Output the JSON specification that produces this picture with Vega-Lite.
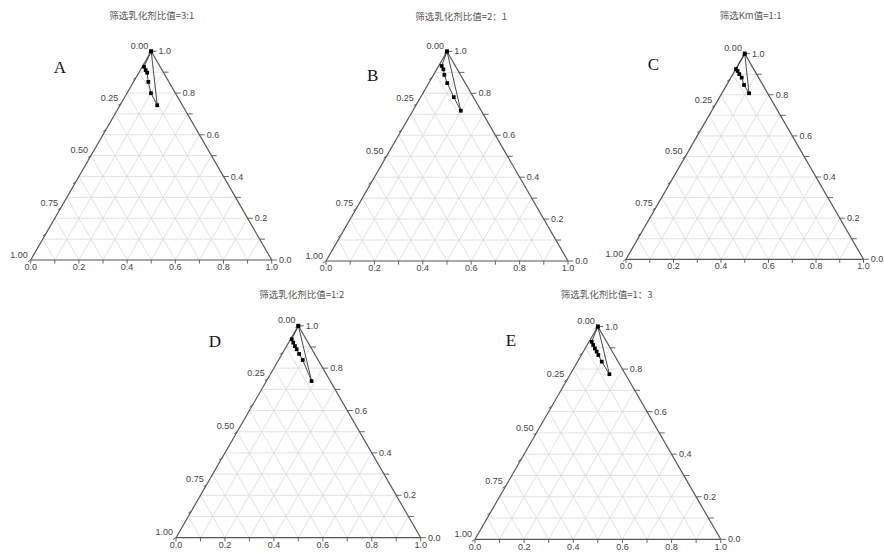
{
  "$schema": "https://vega.github.io/schema/vega-lite/v6.json",
  "padding": 0,
  "background": "white",
  "config": {
    "view": {"stroke": null},
    "text": {"font": "Liberation Sans", "fontSize": 9, "color": "#444"}
  },
  "datasets": {
    "grid": [
      {"x": 0.05, "y": 0.0866, "x2": 0.95, "y2": 0.0866},
      {"x": 0.1, "y": 0.1732, "x2": 0.9, "y2": 0.1732},
      {"x": 0.15, "y": 0.2598, "x2": 0.85, "y2": 0.2598},
      {"x": 0.2, "y": 0.3464, "x2": 0.8, "y2": 0.3464},
      {"x": 0.25, "y": 0.433, "x2": 0.75, "y2": 0.433},
      {"x": 0.3, "y": 0.5196, "x2": 0.7, "y2": 0.5196},
      {"x": 0.35, "y": 0.6062, "x2": 0.65, "y2": 0.6062},
      {"x": 0.4, "y": 0.6928, "x2": 0.6, "y2": 0.6928},
      {"x": 0.45, "y": 0.7794, "x2": 0.55, "y2": 0.7794},
      {"x": 0.1, "y": 0, "x2": 0.55, "y2": 0.7794},
      {"x": 0.2, "y": 0, "x2": 0.6, "y2": 0.6928},
      {"x": 0.3, "y": 0, "x2": 0.65, "y2": 0.6062},
      {"x": 0.4, "y": 0, "x2": 0.7, "y2": 0.5196},
      {"x": 0.5, "y": 0, "x2": 0.75, "y2": 0.433},
      {"x": 0.6, "y": 0, "x2": 0.8, "y2": 0.3464},
      {"x": 0.7, "y": 0, "x2": 0.85, "y2": 0.2598},
      {"x": 0.8, "y": 0, "x2": 0.9, "y2": 0.1732},
      {"x": 0.9, "y": 0, "x2": 0.95, "y2": 0.0866},
      {"x": 0.1, "y": 0, "x2": 0.05, "y2": 0.0866},
      {"x": 0.2, "y": 0, "x2": 0.1, "y2": 0.1732},
      {"x": 0.3, "y": 0, "x2": 0.15, "y2": 0.2598},
      {"x": 0.4, "y": 0, "x2": 0.2, "y2": 0.3464},
      {"x": 0.5, "y": 0, "x2": 0.25, "y2": 0.433},
      {"x": 0.6, "y": 0, "x2": 0.3, "y2": 0.5196},
      {"x": 0.7, "y": 0, "x2": 0.35, "y2": 0.6062},
      {"x": 0.8, "y": 0, "x2": 0.4, "y2": 0.6928},
      {"x": 0.9, "y": 0, "x2": 0.45, "y2": 0.7794}
    ],
    "frame": [
      {"x": 0, "y": 0, "x2": 1, "y2": 0},
      {"x": 1, "y": 0, "x2": 0.5, "y2": 0.866},
      {"x": 0.5, "y": 0.866, "x2": 0, "y2": 0}
    ],
    "ticks": [
      {"x": 0, "y": 0, "x2": 0, "y2": -0.015},
      {"x": 0.1, "y": 0, "x2": 0.1, "y2": -0.015},
      {"x": 0.2, "y": 0, "x2": 0.2, "y2": -0.015},
      {"x": 0.3, "y": 0, "x2": 0.3, "y2": -0.015},
      {"x": 0.4, "y": 0, "x2": 0.4, "y2": -0.015},
      {"x": 0.5, "y": 0, "x2": 0.5, "y2": -0.015},
      {"x": 0.6, "y": 0, "x2": 0.6, "y2": -0.015},
      {"x": 0.7, "y": 0, "x2": 0.7, "y2": -0.015},
      {"x": 0.8, "y": 0, "x2": 0.8, "y2": -0.015},
      {"x": 0.9, "y": 0, "x2": 0.9, "y2": -0.015},
      {"x": 1, "y": 0, "x2": 1, "y2": -0.015},
      {"x": 1, "y": 0, "x2": 1.022, "y2": 0},
      {"x": 0.95, "y": 0.0866, "x2": 0.972, "y2": 0.0866},
      {"x": 0.9, "y": 0.1732, "x2": 0.922, "y2": 0.1732},
      {"x": 0.85, "y": 0.2598, "x2": 0.872, "y2": 0.2598},
      {"x": 0.8, "y": 0.3464, "x2": 0.822, "y2": 0.3464},
      {"x": 0.75, "y": 0.433, "x2": 0.772, "y2": 0.433},
      {"x": 0.7, "y": 0.5196, "x2": 0.722, "y2": 0.5196},
      {"x": 0.65, "y": 0.6062, "x2": 0.672, "y2": 0.6062},
      {"x": 0.6, "y": 0.6928, "x2": 0.622, "y2": 0.6928},
      {"x": 0.55, "y": 0.7794, "x2": 0.572, "y2": 0.7794},
      {"x": 0.5, "y": 0.866, "x2": 0.522, "y2": 0.866},
      {"x": 0.5, "y": 0.866, "x2": 0.488, "y2": 0.858},
      {"x": 0.4375, "y": 0.7578, "x2": 0.4255, "y2": 0.7498},
      {"x": 0.375, "y": 0.6495, "x2": 0.363, "y2": 0.6415},
      {"x": 0.3125, "y": 0.5413, "x2": 0.3005, "y2": 0.5333},
      {"x": 0.25, "y": 0.433, "x2": 0.238, "y2": 0.425},
      {"x": 0.1875, "y": 0.3248, "x2": 0.1755, "y2": 0.3168},
      {"x": 0.125, "y": 0.2165, "x2": 0.113, "y2": 0.2085},
      {"x": 0.0625, "y": 0.1083, "x2": 0.0505, "y2": 0.1003},
      {"x": 0, "y": 0, "x2": -0.012, "y2": -0.008}
    ],
    "labels": [
      {"side": "b", "x": 0, "y": -0.03, "t": "0.0"},
      {"side": "b", "x": 0.2, "y": -0.03, "t": "0.2"},
      {"side": "b", "x": 0.4, "y": -0.03, "t": "0.4"},
      {"side": "b", "x": 0.6, "y": -0.03, "t": "0.6"},
      {"side": "b", "x": 0.8, "y": -0.03, "t": "0.8"},
      {"side": "b", "x": 1, "y": -0.03, "t": "1.0"},
      {"side": "r", "x": 1.03, "y": 0, "t": "0.0"},
      {"side": "r", "x": 0.93, "y": 0.1732, "t": "0.2"},
      {"side": "r", "x": 0.83, "y": 0.3464, "t": "0.4"},
      {"side": "r", "x": 0.73, "y": 0.5196, "t": "0.6"},
      {"side": "r", "x": 0.63, "y": 0.6928, "t": "0.8"},
      {"side": "r", "x": 0.53, "y": 0.866, "t": "1.0"},
      {"side": "l", "x": 0.488, "y": 0.888, "t": "0.00"},
      {"side": "l", "x": 0.363, "y": 0.6715, "t": "0.25"},
      {"side": "l", "x": 0.238, "y": 0.455, "t": "0.50"},
      {"side": "l", "x": 0.113, "y": 0.2385, "t": "0.75"},
      {"side": "l", "x": -0.012, "y": 0.022, "t": "1.00"}
    ]
  },
  "columns": 3,
  "align": "none",
  "spacing": 0,
  "bounds": "flush",
  "concat": [
    {
      "width": 296, "height": 280,
      "encoding": {
        "x": {"field": "x", "type": "quantitative", "scale": {"domain": [-0.1274, 1.1008], "nice": false, "zero": false}, "axis": null},
        "y": {"field": "y", "type": "quantitative", "scale": {"domain": [-0.083, 1.0788], "nice": false, "zero": false}, "axis": null}
      },
      "layer": [
        {"data": {"name": "grid"}, "mark": {"type": "rule", "color": "#dadada", "strokeWidth": 0.8}, "encoding": {"x2": {"field": "x2"}, "y2": {"field": "y2"}}},
        {"data": {"name": "frame"}, "mark": {"type": "rule", "color": "#555", "strokeWidth": 1.2}, "encoding": {"x2": {"field": "x2"}, "y2": {"field": "y2"}}},
        {"data": {"name": "ticks"}, "mark": {"type": "rule", "color": "#555", "strokeWidth": 0.9}, "encoding": {"x2": {"field": "x2"}, "y2": {"field": "y2"}}},
        {"data": {"name": "labels"}, "transform": [{"filter": "datum.side == 'b'"}], "mark": {"type": "text", "align": "center", "baseline": "middle"}, "encoding": {"text": {"field": "t"}}},
        {"data": {"name": "labels"}, "transform": [{"filter": "datum.side == 'r'"}], "mark": {"type": "text", "align": "left", "baseline": "middle"}, "encoding": {"text": {"field": "t"}}},
        {"data": {"name": "labels"}, "transform": [{"filter": "datum.side == 'l'"}], "mark": {"type": "text", "align": "right", "baseline": "middle"}, "encoding": {"text": {"field": "t"}}},
        {"data": {"values": [{"x": 0.502, "y": 1.012, "t": "筛选乳化剂比值=3:1"}]}, "mark": {"type": "text", "font": "Noto Sans CJK SC", "fontSize": 9.5, "color": "#555", "align": "center", "baseline": "middle"}, "encoding": {"text": {"field": "t"}}},
        {"data": {"values": [{"x": 0.1216, "y": 0.797, "t": "A"}]}, "mark": {"type": "text", "font": "Liberation Serif", "fontSize": 17, "color": "#111", "align": "center", "baseline": "middle"}, "encoding": {"text": {"field": "t"}}},
        {
          "data": {"values": [
            {"o": 0, "x": 0.5, "y": 0.866}, {"o": 1, "x": 0.47, "y": 0.802}, {"o": 2, "x": 0.477, "y": 0.788}, {"o": 3, "x": 0.483, "y": 0.777},
            {"o": 4, "x": 0.488, "y": 0.739}, {"o": 5, "x": 0.499, "y": 0.692}, {"o": 6, "x": 0.525, "y": 0.642}, {"o": 7, "x": 0.5, "y": 0.866}
          ]},
          "layer": [
            {"mark": {"type": "line", "color": "#333", "strokeWidth": 0.9}, "encoding": {"order": {"field": "o", "type": "quantitative"}}},
            {"mark": {"type": "point", "shape": "square", "filled": true, "size": 14, "color": "#000", "opacity": 1}, "encoding": {}}
          ]
        }
      ]
    },
    {
      "width": 300, "height": 280,
      "encoding": {
        "x": {"field": "x", "type": "quantitative", "scale": {"domain": [-0.124, 1.1157], "nice": false, "zero": false}, "axis": null},
        "y": {"field": "y", "type": "quantitative", "scale": {"domain": [-0.0785, 1.0785], "nice": false, "zero": false}, "axis": null}
      },
      "layer": [
        {"data": {"name": "grid"}, "mark": {"type": "rule", "color": "#dadada", "strokeWidth": 0.8}, "encoding": {"x2": {"field": "x2"}, "y2": {"field": "y2"}}},
        {"data": {"name": "frame"}, "mark": {"type": "rule", "color": "#555", "strokeWidth": 1.2}, "encoding": {"x2": {"field": "x2"}, "y2": {"field": "y2"}}},
        {"data": {"name": "ticks"}, "mark": {"type": "rule", "color": "#555", "strokeWidth": 0.9}, "encoding": {"x2": {"field": "x2"}, "y2": {"field": "y2"}}},
        {"data": {"name": "labels"}, "transform": [{"filter": "datum.side == 'b'"}], "mark": {"type": "text", "align": "center", "baseline": "middle"}, "encoding": {"text": {"field": "t"}}},
        {"data": {"name": "labels"}, "transform": [{"filter": "datum.side == 'r'"}], "mark": {"type": "text", "align": "left", "baseline": "middle"}, "encoding": {"text": {"field": "t"}}},
        {"data": {"name": "labels"}, "transform": [{"filter": "datum.side == 'l'"}], "mark": {"type": "text", "align": "right", "baseline": "middle"}, "encoding": {"text": {"field": "t"}}},
        {"data": {"values": [{"x": 0.558, "y": 1.008, "t": "筛选乳化剂比值=2：1"}]}, "mark": {"type": "text", "font": "Noto Sans CJK SC", "fontSize": 9.5, "color": "#555", "align": "center", "baseline": "middle"}, "encoding": {"text": {"field": "t"}}},
        {"data": {"values": [{"x": 0.193, "y": 0.764, "t": "B"}]}, "mark": {"type": "text", "font": "Liberation Serif", "fontSize": 17, "color": "#111", "align": "center", "baseline": "middle"}, "encoding": {"text": {"field": "t"}}},
        {
          "data": {"values": [
            {"o": 0, "x": 0.5, "y": 0.866}, {"o": 1, "x": 0.478, "y": 0.806}, {"o": 2, "x": 0.485, "y": 0.792}, {"o": 3, "x": 0.489, "y": 0.769},
            {"o": 4, "x": 0.501, "y": 0.735}, {"o": 5, "x": 0.528, "y": 0.677}, {"o": 6, "x": 0.557, "y": 0.621}, {"o": 7, "x": 0.5, "y": 0.866}
          ]},
          "layer": [
            {"mark": {"type": "line", "color": "#333", "strokeWidth": 0.9}, "encoding": {"order": {"field": "o", "type": "quantitative"}}},
            {"mark": {"type": "point", "shape": "square", "filled": true, "size": 14, "color": "#000", "opacity": 1}, "encoding": {}}
          ]
        }
      ]
    },
    {
      "width": 288, "height": 280,
      "encoding": {
        "x": {"field": "x", "type": "quantitative", "scale": {"domain": [-0.1263, 1.0863], "nice": false, "zero": false}, "axis": null},
        "y": {"field": "y", "type": "quantitative", "scale": {"domain": [-0.0872, 1.0918], "nice": false, "zero": false}, "axis": null}
      },
      "layer": [
        {"data": {"name": "grid"}, "mark": {"type": "rule", "color": "#dadada", "strokeWidth": 0.8}, "encoding": {"x2": {"field": "x2"}, "y2": {"field": "y2"}}},
        {"data": {"name": "frame"}, "mark": {"type": "rule", "color": "#555", "strokeWidth": 1.2}, "encoding": {"x2": {"field": "x2"}, "y2": {"field": "y2"}}},
        {"data": {"name": "ticks"}, "mark": {"type": "rule", "color": "#555", "strokeWidth": 0.9}, "encoding": {"x2": {"field": "x2"}, "y2": {"field": "y2"}}},
        {"data": {"name": "labels"}, "transform": [{"filter": "datum.side == 'b'"}], "mark": {"type": "text", "align": "center", "baseline": "middle"}, "encoding": {"text": {"field": "t"}}},
        {"data": {"name": "labels"}, "transform": [{"filter": "datum.side == 'r'"}], "mark": {"type": "text", "align": "left", "baseline": "middle"}, "encoding": {"text": {"field": "t"}}},
        {"data": {"name": "labels"}, "transform": [{"filter": "datum.side == 'l'"}], "mark": {"type": "text", "align": "right", "baseline": "middle"}, "encoding": {"text": {"field": "t"}}},
        {"data": {"values": [{"x": 0.525, "y": 1.0244, "t": "筛选Km值=1:1"}]}, "mark": {"type": "text", "font": "Noto Sans CJK SC", "fontSize": 9.5, "color": "#555", "align": "center", "baseline": "middle"}, "encoding": {"text": {"field": "t"}}},
        {"data": {"values": [{"x": 0.115, "y": 0.818, "t": "C"}]}, "mark": {"type": "text", "font": "Liberation Serif", "fontSize": 17, "color": "#111", "align": "center", "baseline": "middle"}, "encoding": {"text": {"field": "t"}}},
        {
          "data": {"values": [
            {"o": 0, "x": 0.5, "y": 0.866}, {"o": 1, "x": 0.463, "y": 0.801}, {"o": 2, "x": 0.47, "y": 0.793}, {"o": 3, "x": 0.477, "y": 0.78},
            {"o": 4, "x": 0.487, "y": 0.765}, {"o": 5, "x": 0.497, "y": 0.734}, {"o": 6, "x": 0.518, "y": 0.699}, {"o": 7, "x": 0.5, "y": 0.866}
          ]},
          "layer": [
            {"mark": {"type": "line", "color": "#333", "strokeWidth": 0.9}, "encoding": {"order": {"field": "o", "type": "quantitative"}}},
            {"mark": {"type": "point", "shape": "square", "filled": true, "size": 14, "color": "#000", "opacity": 1}, "encoding": {}}
          ]
        }
      ]
    },
    {
      "width": 296, "height": 278,
      "encoding": {
        "x": {"field": "x", "type": "quantitative", "scale": {"domain": [-0.7193, 0.4904], "nice": false, "zero": false}, "axis": null},
        "y": {"field": "y", "type": "quantitative", "scale": {"domain": [-0.083, 1.0531], "nice": false, "zero": false}, "axis": null}
      },
      "layer": [
        {"data": {"name": "grid"}, "mark": {"type": "rule", "color": "#dadada", "strokeWidth": 0.8}, "encoding": {"x2": {"field": "x2"}, "y2": {"field": "y2"}}},
        {"data": {"name": "frame"}, "mark": {"type": "rule", "color": "#555", "strokeWidth": 1.2}, "encoding": {"x2": {"field": "x2"}, "y2": {"field": "y2"}}},
        {"data": {"name": "ticks"}, "mark": {"type": "rule", "color": "#555", "strokeWidth": 0.9}, "encoding": {"x2": {"field": "x2"}, "y2": {"field": "y2"}}},
        {"data": {"name": "labels"}, "transform": [{"filter": "datum.side == 'b'"}], "mark": {"type": "text", "align": "center", "baseline": "middle"}, "encoding": {"text": {"field": "t"}}},
        {"data": {"name": "labels"}, "transform": [{"filter": "datum.side == 'r'"}], "mark": {"type": "text", "align": "left", "baseline": "middle"}, "encoding": {"text": {"field": "t"}}},
        {"data": {"name": "labels"}, "transform": [{"filter": "datum.side == 'l'"}], "mark": {"type": "text", "align": "right", "baseline": "middle"}, "encoding": {"text": {"field": "t"}}},
        {"data": {"values": [{"x": 0.514, "y": 0.992, "t": "筛选乳化剂比值=1:2"}]}, "mark": {"type": "text", "font": "Noto Sans CJK SC", "fontSize": 9.5, "color": "#555", "align": "center", "baseline": "middle"}, "encoding": {"text": {"field": "t"}}},
        {"data": {"values": [{"x": 0.159, "y": 0.801, "t": "D"}]}, "mark": {"type": "text", "font": "Liberation Serif", "fontSize": 17, "color": "#111", "align": "center", "baseline": "middle"}, "encoding": {"text": {"field": "t"}}},
        {
          "data": {"values": [
            {"o": 0, "x": 0.5, "y": 0.866}, {"o": 1, "x": 0.473, "y": 0.811}, {"o": 2, "x": 0.479, "y": 0.797}, {"o": 3, "x": 0.486, "y": 0.783},
            {"o": 4, "x": 0.493, "y": 0.77}, {"o": 5, "x": 0.503, "y": 0.751}, {"o": 6, "x": 0.518, "y": 0.726}, {"o": 7, "x": 0.554, "y": 0.64},
            {"o": 8, "x": 0.5, "y": 0.866}
          ]},
          "layer": [
            {"mark": {"type": "line", "color": "#333", "strokeWidth": 0.9}, "encoding": {"order": {"field": "o", "type": "quantitative"}}},
            {"mark": {"type": "point", "shape": "square", "filled": true, "size": 14, "color": "#000", "opacity": 1}, "encoding": {}}
          ]
        }
      ]
    },
    {
      "width": 300, "height": 278,
      "encoding": {
        "x": {"field": "x", "type": "quantitative", "scale": {"domain": [-0.7285, 0.4925], "nice": false, "zero": false}, "axis": null},
        "y": {"field": "y", "type": "quantitative", "scale": {"domain": [-0.0761, 1.0553], "nice": false, "zero": false}, "axis": null}
      },
      "layer": [
        {"data": {"name": "grid"}, "mark": {"type": "rule", "color": "#dadada", "strokeWidth": 0.8}, "encoding": {"x2": {"field": "x2"}, "y2": {"field": "y2"}}},
        {"data": {"name": "frame"}, "mark": {"type": "rule", "color": "#555", "strokeWidth": 1.2}, "encoding": {"x2": {"field": "x2"}, "y2": {"field": "y2"}}},
        {"data": {"name": "ticks"}, "mark": {"type": "rule", "color": "#555", "strokeWidth": 0.9}, "encoding": {"x2": {"field": "x2"}, "y2": {"field": "y2"}}},
        {"data": {"name": "labels"}, "transform": [{"filter": "datum.side == 'b'"}], "mark": {"type": "text", "align": "center", "baseline": "middle"}, "encoding": {"text": {"field": "t"}}},
        {"data": {"name": "labels"}, "transform": [{"filter": "datum.side == 'r'"}], "mark": {"type": "text", "align": "left", "baseline": "middle"}, "encoding": {"text": {"field": "t"}}},
        {"data": {"name": "labels"}, "transform": [{"filter": "datum.side == 'l'"}], "mark": {"type": "text", "align": "right", "baseline": "middle"}, "encoding": {"text": {"field": "t"}}},
        {"data": {"values": [{"x": 0.536, "y": 0.994, "t": "筛选乳化剂比值=1：3"}]}, "mark": {"type": "text", "font": "Noto Sans CJK SC", "fontSize": 9.5, "color": "#555", "align": "center", "baseline": "middle"}, "encoding": {"text": {"field": "t"}}},
        {"data": {"values": [{"x": 0.1465, "y": 0.807, "t": "E"}]}, "mark": {"type": "text", "font": "Liberation Serif", "fontSize": 17, "color": "#111", "align": "center", "baseline": "middle"}, "encoding": {"text": {"field": "t"}}},
        {
          "data": {"values": [
            {"o": 0, "x": 0.5, "y": 0.866}, {"o": 1, "x": 0.475, "y": 0.804}, {"o": 2, "x": 0.481, "y": 0.791}, {"o": 3, "x": 0.488, "y": 0.777},
            {"o": 4, "x": 0.495, "y": 0.764}, {"o": 5, "x": 0.502, "y": 0.75}, {"o": 6, "x": 0.516, "y": 0.723}, {"o": 7, "x": 0.547, "y": 0.672},
            {"o": 8, "x": 0.5, "y": 0.866}
          ]},
          "layer": [
            {"mark": {"type": "line", "color": "#333", "strokeWidth": 0.9}, "encoding": {"order": {"field": "o", "type": "quantitative"}}},
            {"mark": {"type": "point", "shape": "square", "filled": true, "size": 14, "color": "#000", "opacity": 1}, "encoding": {}}
          ]
        }
      ]
    }
  ]
}
